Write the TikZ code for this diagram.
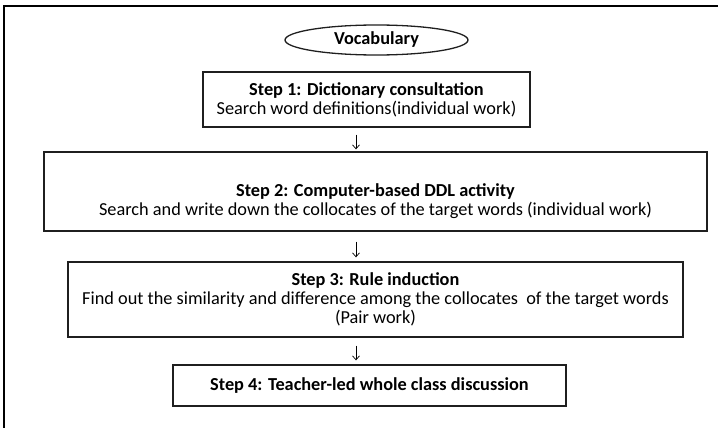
\documentclass[tikz,border=0pt]{standalone}
\usepackage{fontspec}
\setmainfont{Carlito}
\usetikzlibrary{shapes.geometric,arrows.meta}
\begin{document}
\begin{tikzpicture}[x=1pt,y=1pt,
  stepbox/.style={draw=black!88, line width=1.3pt, align=center, inner sep=2pt,
    font=\fontsize{18.3}{18.7}\selectfont},
  oval/.style={ellipse, draw=black!88, line width=1.3pt, inner sep=0pt,
    font=\fontsize{18.3}{18.7}\selectfont\bfseries},
  arr/.style={line width=0.7pt, -{Straight Barb[length=4pt,width=7pt]}}]
\useasboundingbox (0,0) rectangle (718,-428);
\draw[line width=2pt] (4,-428) -- (4,-6) -- (718,-6);
\node[oval, minimum width=183pt, minimum height=30pt] (voc) at (376.5,-40) {Vocabulary};
\node[stepbox, minimum width=327pt, minimum height=55pt] (b1) at (366.5,-99.5)
  {\textbf{Step 1: Dictionary consultation}\\Search word definitions(individual work)};
\node[stepbox, minimum width=663pt, minimum height=79pt] (b2) at (375.5,-191.5)
  {\strut\\\textbf{Step 2: Computer-based DDL activity}\\Search and write down the collocates of the target words (individual work)};
\node[stepbox, minimum width=615pt, minimum height=75pt] (b3) at (375.5,-299.5)
  {\textbf{Step 3: Rule induction}\\Find out the similarity and difference among the collocates\ \ of the target words\\(Pair work)};
\node[stepbox, minimum width=393pt, minimum height=41pt] (b4) at (369.5,-385.5)
  {\textbf{Step 4: Teacher-led whole class discussion}};
\coordinate (ax) at (356,0);
\draw[arr, shorten <=7pt, shorten >=2pt] (b1.south -| ax) -- (b2.north -| ax);
\draw[arr, shorten <=10pt, shorten >=4pt] (b2.south -| ax) -- (b3.north -| ax);
\draw[arr, shorten <=8pt, shorten >=4pt] (b3.south -| ax) -- (b4.north -| ax);
\end{tikzpicture}
\end{document}
